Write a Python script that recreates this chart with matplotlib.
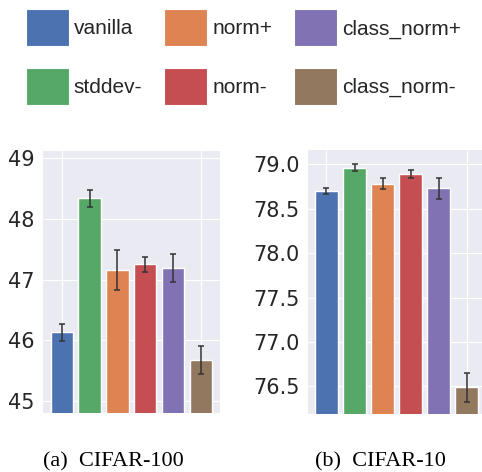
import numpy as np
import matplotlib
matplotlib.use("Agg")
import matplotlib.pyplot as plt
import seaborn as sns
from matplotlib.patches import Patch

sns.set_style("darkgrid")
plt.rcParams["font.family"] = ["DejaVu Sans"]

# %% Data

methods = ["vanilla", "stddev-", "norm+", "norm-", "class_norm+", "class_norm-"]
colors = ["#4C72B0", "#55A868", "#DD8452", "#C44E52", "#8172B3", "#937860"]

c100_mean = [46.13, 48.34, 47.16, 47.25, 47.19, 45.67]
c100_err = [0.14, 0.14, 0.33, 0.13, 0.23, 0.23]

c10_mean = [78.70, 78.96, 78.78, 78.89, 78.73, 76.49]
c10_err = [0.03, 0.04, 0.06, 0.05, 0.12, 0.16]

c100_ticks = [45, 46, 47, 48, 49]
c10_ticks = [76.5, 77.0, 77.5, 78.0, 78.5, 79.0]

captions = ["(a)  CIFAR-100", "(b)  CIFAR-10"]

# %% Figure

W, H = 482, 472
fig = plt.figure(figsize=(W / 100, H / 100), dpi=100)

ax1 = fig.add_axes([43 / W, 1 - 413 / H, 177 / W, 262.5 / H])
ax2 = fig.add_axes([307.7 / W, 1 - 414 / H, 178 / W, 264 / H])

x = np.arange(len(methods))


def draw(ax, mean, err, ylim, ticks, fmt):
    ax.bar(x, mean, width=0.8, color=colors, edgecolor="white", linewidth=1,
           yerr=err, capsize=2.5, zorder=2,
           error_kw=dict(ecolor="#333333", elinewidth=1.1, capthick=1.1))
    ax.set_ylim(*ylim)
    ax.set_xlim(-0.67, 5.68)
    ax.set_xticks([0, 5])
    ax.set_xticklabels([])
    ax.set_yticks(ticks)
    ax.set_yticklabels([fmt.format(t) for t in ticks])
    ax.tick_params(axis="y", labelsize=15, pad=6, length=0, colors="#262626")
    ax.tick_params(axis="x", length=0)
    for s in ax.spines.values():
        s.set_visible(False)


draw(ax1, c100_mean, c100_err, (44.8, 49.13), c100_ticks, "{:.0f}")
draw(ax2, c10_mean, c10_err, (76.19, 79.16), c10_ticks, "{:.1f}")

# %% Legend

handles = [Patch(facecolor=c, edgecolor="white", linewidth=0.8) for c in colors]
fig.legend(handles, methods, ncol=3, loc="upper left",
           bbox_to_anchor=(26 / W, 1 - 9.3 / H), frameon=False,
           prop=dict(family="Liberation Sans", size=15),
           handlelength=2.05, handleheight=2.36, handletextpad=0.25,
           labelspacing=1.05, columnspacing=1.05, borderpad=0, borderaxespad=0)

# %% Captions

fig.text(113 / W, 1 - 466.7 / H, captions[0], ha="center", va="baseline",
         family="Liberation Serif", fontsize=16, color="black")
fig.text(380 / W, 1 - 466.7 / H, captions[1], ha="center", va="baseline",
         family="Liberation Serif", fontsize=16, color="black")

fig.savefig("out.png", dpi=100)
